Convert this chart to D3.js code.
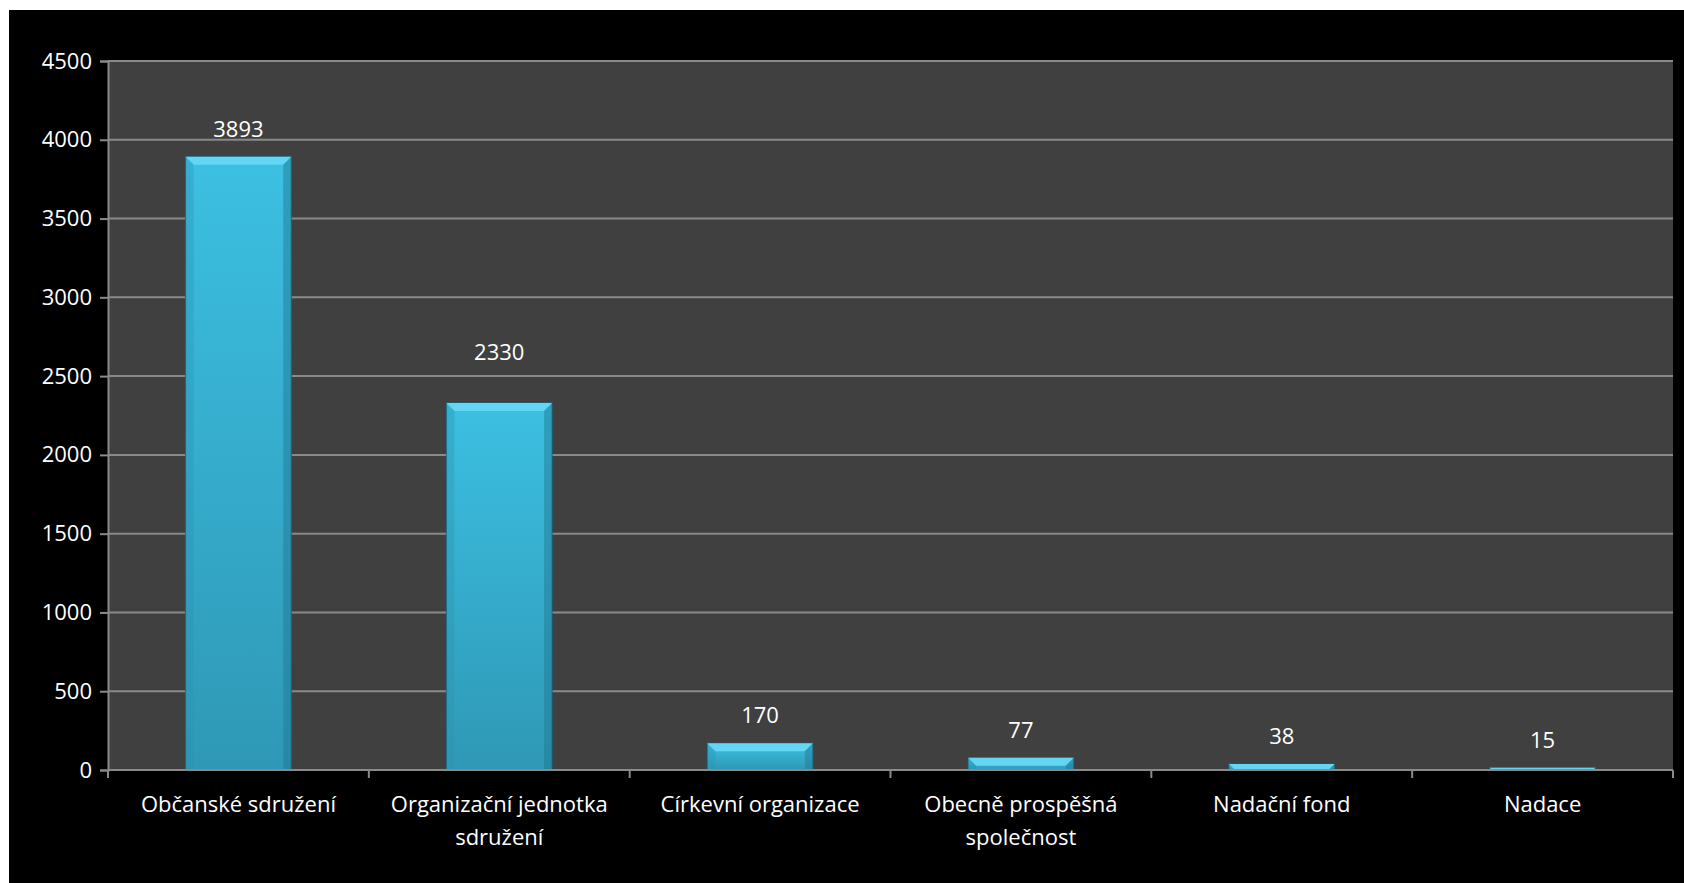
<!DOCTYPE html>
<html>
<head>
<meta charset="utf-8">
<script src="https://cdn.jsdelivr.net/npm/d3@7"></script>
<style>
  body { margin: 0; background: #fff; }
  text { font-family: "Open Sans", "Noto Sans", sans-serif; fill: #fff; }
</style>
</head>
<body>
<svg id="chart" width="1684" height="883"></svg>
<script>
// data
const categories = ["Občanské sdružení", "Organizační jednotka sdružení", "Církevní organizace",
                    "Obecně prospěšná společnost", "Nadační fond", "Nadace"];
const values = [3893, 2330, 170, 77, 38, 15];
const yTicks = [0, 500, 1000, 1500, 2000, 2500, 3000, 3500, 4000, 4500];
// category labels split into lines as in the original
const labelLines = [["Občanské sdružení"], ["Organizační jednotka", "sdružení"], ["Církevní organizace"],
                    ["Obecně prospěšná", "společnost"], ["Nadační fond"], ["Nadace"]];

const svg = d3.select("#chart");
const plot = { left: 108, top: 61, right: 1673, bottom: 770 };

// black chart area
svg.append("rect").attr("x", 9).attr("y", 10).attr("width", 1675).attr("height", 873).attr("fill", "#000");

svg.append("rect")
    .attr("x", plot.left).attr("y", plot.top)
    .attr("width", plot.right - plot.left).attr("height", plot.bottom - plot.top)
    .attr("fill", "#404040");

const x = d3.scaleBand().domain(categories).range([plot.left, plot.right]).padding(0);
const y = d3.scaleLinear().domain([0, 4500]).range([plot.bottom, plot.top]);

// gridlines
svg.append("g").selectAll("line")
    .data(yTicks.slice(1))
    .enter().append("line")
    .attr("x1", plot.left).attr("x2", plot.right)
    .attr("y1", d => y(d)).attr("y2", d => y(d))
    .attr("stroke", "#8a8a8a").attr("stroke-width", 2);

// y axis
const yAxis = svg.append("g")
    .attr("transform", `translate(${plot.left},0)`)
    .call(d3.axisLeft(y).tickValues(yTicks).tickFormat(d3.format("d")).tickSize(8).tickPadding(8));
yAxis.select(".domain").attr("stroke", "#8a8a8a").attr("stroke-width", 2);
yAxis.selectAll(".tick line").attr("stroke", "#8a8a8a").attr("stroke-width", 2);
yAxis.selectAll(".tick text").attr("font-size", 22).attr("fill", "#fff")
    .attr("font-family", "'Open Sans', sans-serif");

// bar gradient
const defs = svg.append("defs");
const grad = defs.append("linearGradient").attr("id", "barGrad")
    .attr("x1", 0).attr("y1", 0).attr("x2", 0).attr("y2", 1);
grad.append("stop").attr("offset", "0%").attr("stop-color", "#3cc0e2");
grad.append("stop").attr("offset", "100%").attr("stop-color", "#2f98b6");

const barW = x.bandwidth() * 0.405;
const bev = 8;

const bars = svg.append("g").selectAll("g")
    .data(values)
    .enter().append("g")
    .attr("transform", (d, i) => `translate(${x(categories[i]) + x.bandwidth() / 2 - barW / 2},0)`);

bars.append("rect")
    .attr("x", 0).attr("y", d => y(d))
    .attr("width", barW).attr("height", d => y(0) - y(d))
    .attr("fill", "url(#barGrad)")
    .attr("stroke", "#1b6277").attr("stroke-width", 1);

// bevel: top highlight
bars.append("path")
    .attr("d", d => {
        const t = y(d), h = Math.min(bev, y(0) - t);
        return `M0,${t}L${barW},${t}L${barW - h},${t + h}L${h},${t + h}Z`;
    })
    .attr("fill", "#62d6f2");
// bevel: side shades
bars.append("path")
    .attr("d", d => {
        const t = y(d), h = Math.min(bev, y(0) - t);
        return `M0,${t}L${h},${t + h}L${h},${y(0)}L0,${y(0)}Z`;
    })
    .attr("fill", "#2b92b0").attr("opacity", 0.35);
bars.append("path")
    .attr("d", d => {
        const t = y(d), h = Math.min(bev, y(0) - t);
        return `M${barW},${t}L${barW - h},${t + h}L${barW - h},${y(0)}L${barW},${y(0)}Z`;
    })
    .attr("fill", "#1f7690").attr("opacity", 0.45);

// value labels (the 2330 label sits higher in the original)
const labelNudge = { 1: -23 };
bars.append("text")
    .attr("x", barW / 2)
    .attr("y", (d, i) => y(d) - 20 + (labelNudge[i] || 0))
    .attr("text-anchor", "middle")
    .attr("font-size", 22)
    .text(d => d);

// x axis
svg.append("line")
    .attr("x1", plot.left).attr("x2", plot.right)
    .attr("y1", plot.bottom).attr("y2", plot.bottom)
    .attr("stroke", "#8a8a8a").attr("stroke-width", 2);
const bounds = categories.map(c => x(c)).concat([plot.right]);
svg.append("g").selectAll("line")
    .data(bounds)
    .enter().append("line")
    .attr("x1", d => d).attr("x2", d => d)
    .attr("y1", plot.bottom).attr("y2", plot.bottom + 8)
    .attr("stroke", "#8a8a8a").attr("stroke-width", 2);

const catText = svg.append("g").selectAll("text")
    .data(categories)
    .enter().append("text")
    .attr("x", d => x(d) + x.bandwidth() / 2)
    .attr("y", 812)
    .attr("text-anchor", "middle")
    .attr("font-size", 22);
catText.selectAll("tspan")
    .data((d, i) => labelLines[i])
    .enter().append("tspan")
    .attr("x", function() { return d3.select(this.parentNode).attr("x"); })
    .attr("dy", (d, i) => i === 0 ? 0 : 33)
    .text(d => d);
</script>
</body>
</html>
